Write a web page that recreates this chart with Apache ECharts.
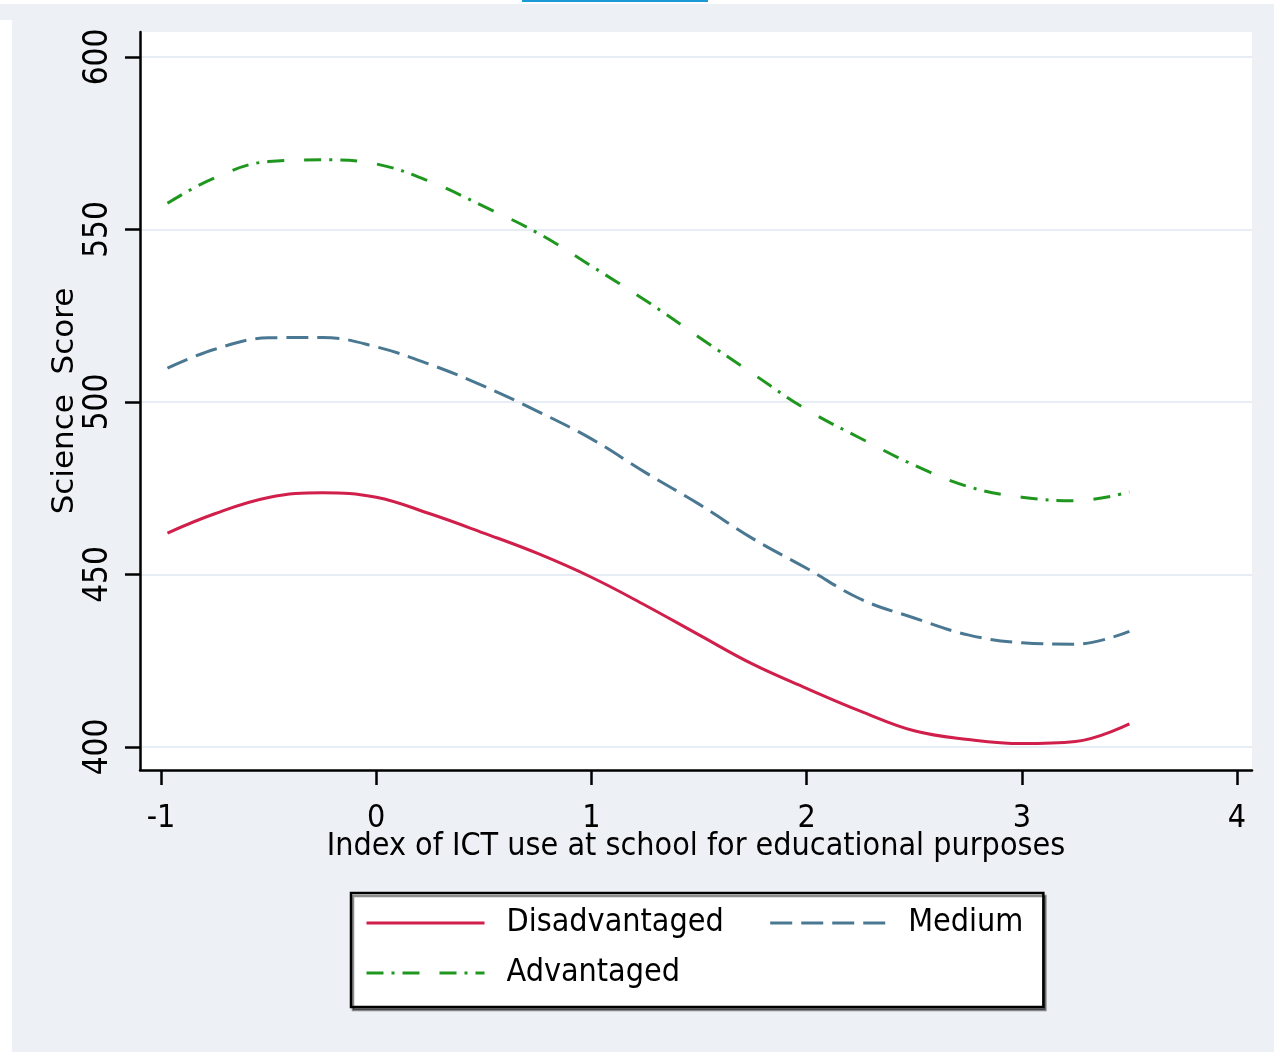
<!DOCTYPE html>
<html>
<head>
<meta charset="utf-8">
<script src="https://cdn.jsdelivr.net/npm/echarts@6/dist/echarts.min.js"></script>
<style>
  html, body { margin: 0; padding: 0; background: #ffffff; }
  #chart { width: 1274px; height: 1053px; }
</style>
</head>
<body>
<div id="chart"></div>
<script>
// Index of ICT use at school (x) and fitted science scores by school group
const ictIndex = [-0.97, -0.75, -0.5, -0.25, 0, 0.25, 0.5, 0.75, 1, 1.25, 1.5, 1.75, 2, 2.25, 2.5, 2.75, 3, 3.25, 3.5];
const disadvantaged = [462.0, 467.6, 472.3, 473.7, 472.4, 467.6, 462.0, 456.1, 449.2, 441.1, 432.5, 424.0, 417.0, 410.4, 404.7, 402.2, 401.0, 401.6, 406.7];
const medium = [509.8, 515.3, 518.6, 518.7, 516.0, 510.9, 504.6, 497.3, 489.3, 479.6, 470.4, 460.4, 451.8, 442.9, 437.4, 432.5, 430.2, 429.8, 433.5];
const advantaged = [557.6, 565.0, 569.7, 570.2, 569.0, 563.9, 556.7, 549.0, 539.4, 529.5, 518.8, 508.2, 497.8, 489.5, 481.7, 475.5, 472.4, 471.4, 473.9];

const seriesNames = ['Disadvantaged', 'Medium', 'Advantaged'];
const xTickValues = [-1, 0, 1, 2, 3, 4];
const yTickValues = [400, 450, 500, 550, 600];

const FONT = "'DejaVu Sans Condensed', 'DejaVu Sans', sans-serif";
const pairs = vals => ictIndex.map((x, i) => [x, vals[i]]);

const chart = echarts.init(document.getElementById('chart'), null, { renderer: 'canvas' });

chart.setOption({
  backgroundColor: '#edf1f6',
  animation: false,
  graphic: [
    { type: 'rect', shape: { x: 0, y: 0, width: 1274, height: 4 }, style: { fill: '#ffffff' }, silent: true },
    { type: 'rect', shape: { x: 522, y: 0, width: 186, height: 2 }, style: { fill: '#1a9bd7' }, silent: true },
    { type: 'rect', shape: { x: 0, y: 20, width: 12, height: 1033 }, style: { fill: '#ffffff' }, silent: true },
    { type: 'rect', shape: { x: 0, y: 1052, width: 1274, height: 1 }, style: { fill: '#ffffff' }, silent: true }
  ],
  grid: {
    left: 140, top: 32, right: 22, bottom: 283,
    show: true, backgroundColor: '#ffffff', borderWidth: 0
  },
  xAxis: {
    type: 'value',
    min: -1.0976, max: 4.0697,
    name: 'Index of ICT use at school for educational purposes',
    nameLocation: 'middle',
    nameGap: 61,
    nameMoveOverlap: false,
    nameTextStyle: { fontFamily: FONT, fontSize: 32, color: '#000' },
    axisLine: { onZero: false, lineStyle: { color: '#000', width: 2.5 } },
    axisTick: { customValues: xTickValues, length: 15, lineStyle: { color: '#000', width: 2.5 } },
    axisLabel: { customValues: xTickValues, margin: 33, fontFamily: FONT, fontSize: 32, color: '#000' },
    splitLine: { show: false }
  },
  yAxis: {
    type: 'value',
    min: 393.33, max: 607.25,
    name: 'Science  Score',
    nameLocation: 'middle',
    nameGap: 60,
    nameMoveOverlap: false,
    nameTextStyle: { fontFamily: "'DejaVu Sans', sans-serif", fontSize: 31, color: '#000' },
    axisLine: { onZero: false, lineStyle: { color: '#000', width: 2.5 } },
    axisTick: { customValues: yTickValues, length: 15, lineStyle: { color: '#000', width: 2.5 } },
    axisLabel: { customValues: yTickValues, rotate: 90, margin: 25, fontFamily: FONT, fontSize: 33, color: '#000' },
    splitLine: { show: true, lineStyle: { color: '#e7edf4', width: 2 } }
  },
  legend: {
    data: seriesNames,
    left: 351, top: 893,
    width: 690,
    orient: 'horizontal',
    padding: [10, 20, 14, 14],
    itemWidth: 118, itemHeight: 40, itemGap: 10,
    backgroundColor: '#ffffff',
    borderColor: '#000', borderWidth: 2.5, borderRadius: 0,
    shadowColor: 'rgba(0,0,0,0.45)', shadowOffsetX: 2, shadowOffsetY: 3, shadowBlur: 0,
    itemStyle: { color: 'rgba(0,0,0,0)', borderWidth: 0, opacity: 0 },
    lineStyle: { width: 3 },
    formatter: name => name === 'Medium' ? `{m|${name}}` : `{c|${name}}`,
    textStyle: {
      fontFamily: FONT, fontSize: 32, color: '#000', lineHeight: 40,
      rich: {
        c: { fontFamily: FONT, fontSize: 32, color: '#000', lineHeight: 40, padding: [0, 35, 0, 17] },
        m: { fontFamily: FONT, fontSize: 32, color: '#000', lineHeight: 40, padding: [0, 0, 0, 15] }
      }
    }
  },
  series: [
    {
      name: seriesNames[0], type: 'line', data: pairs(disadvantaged),
      smooth: 0.4, symbol: 'none',
      lineStyle: { color: '#d01f4b', width: 3, type: 'solid' },
      itemStyle: { color: '#d01f4b' }
    },
    {
      name: seriesNames[1], type: 'line', data: pairs(medium),
      smooth: 0.4, symbol: 'none',
      lineStyle: { color: '#4a7892', width: 3, type: [22, 9] },
      itemStyle: { color: '#4a7892' }
    },
    {
      name: seriesNames[2], type: 'line', data: pairs(advantaged),
      smooth: 0.4, symbol: 'none',
      lineStyle: { color: '#1f971f', width: 3, type: [17, 8, 3, 8, 17, 20] },
      itemStyle: { color: '#1f971f' }
    }
  ]
});
</script>
</body>
</html>
